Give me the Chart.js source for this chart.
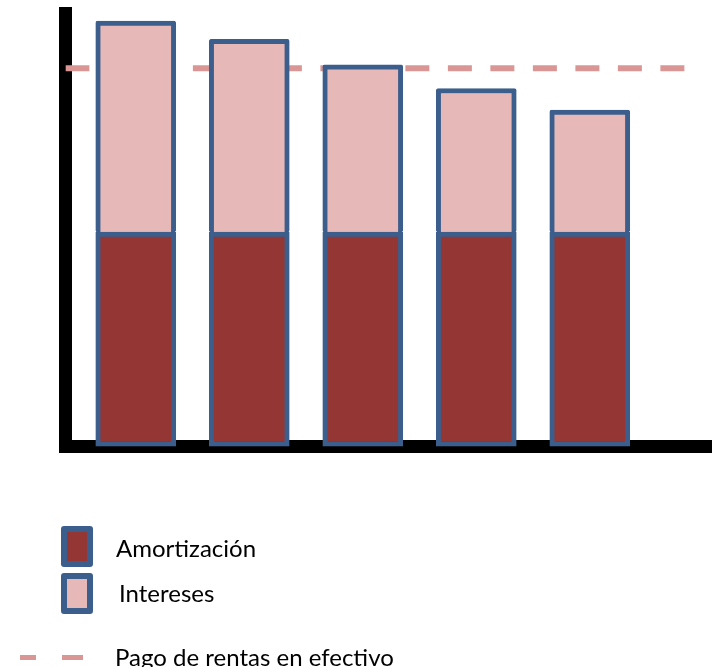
<!DOCTYPE html>
<html>
<head>
<meta charset="utf-8">
<script src="https://cdn.jsdelivr.net/npm/chart.js@4.4.0/dist/chart.umd.min.js"></script>
<style>
  html, body { margin: 0; padding: 0; background: #fff; }
  #wrap { position: relative; width: 715px; height: 667px; overflow: hidden; }
  #chart { position: absolute; left: 0; top: 0; }
  .box { position: absolute; left: 61px; width: 20px; height: 29px; border: 6px solid #3b5e8c; border-radius: 3px; }
  .txt { position: absolute; font-family: Lato, "Open Sans", sans-serif; font-size: 24px; line-height: 30px; color: #000; white-space: nowrap; }
  .dash { position: absolute; height: 5px; background: #d99694; top: 655px; }
</style>
</head>
<body>
<div id="wrap">
  <canvas id="chart" width="715" height="667"></canvas>
  <div class="box" style="top:526px; background:#943634;"></div>
  <div class="txt" style="left:116px; top:533px;">Amortización</div>
  <div class="box" style="top:573px; background:#e6b9b8;"></div>
  <div class="txt" style="left:119px; top:578px;">Intereses</div>
  <div class="dash" style="left:20px; width:16px;"></div>
  <div class="dash" style="left:62px; width:21px;"></div>
  <div class="txt" style="left:115px; top:642px;">Pago de rentas en efectivo</div>
</div>
<script>
// periods (bar positions on the x axis)
const PERIODS = [1, 2, 3, 4, 5];
const AMORTIZACION = [100, 100, 100, 100, 100];
const INTERESES = [98.5, 90, 78, 67, 57];
// constant cash rent, drawn across the whole period range
const RENTA = 176.5;
const RENTA_RANGE = [0.38, 5.85];

const BORDER = '#3b5e8c';

new Chart(document.getElementById('chart'), {
  type: 'bar',
  data: {
    datasets: [
      {
        label: 'Amortización',
        data: PERIODS.map((p, i) => ({ x: p, y: AMORTIZACION[i] })),
        backgroundColor: '#943634',
        borderColor: BORDER, borderWidth: 5, borderSkipped: false,
        borderRadius: 2, barThickness: 80, stack: 's', order: 1
      },
      {
        label: 'Intereses',
        data: PERIODS.map((p, i) => ({ x: p, y: INTERESES[i] })),
        backgroundColor: '#e6b9b8',
        borderColor: BORDER, borderWidth: { top: 5, left: 5, right: 5, bottom: 0 }, borderSkipped: false,
        borderRadius: 2, barThickness: 80, stack: 's', order: 1
      },
      {
        type: 'line',
        label: 'Pago de rentas en efectivo',
        data: RENTA_RANGE.map(x => ({ x: x, y: RENTA })),
        borderColor: '#d99694', borderWidth: 6, borderDash: [24, 18.5],
        pointRadius: 0, fill: false, order: 2
      }
    ]
  },
  options: {
    responsive: false,
    animation: false,
    layout: { padding: { left: 65.5, top: 13.5, right: 4, bottom: 220.5 } },
    plugins: { legend: { display: false }, tooltip: { enabled: false } },
    scales: {
      x: {
        type: 'linear', min: 0.381, max: 6.068, stacked: true, offset: false,
        ticks: { display: false, padding: 0 },
        grid: { display: false, drawTicks: false, tickLength: 0 },
        border: { display: true, color: '#000', width: 13 }
      },
      y: {
        min: 0, max: 202, stacked: true,
        ticks: { display: false, padding: 0 },
        grid: { display: false, drawTicks: false, tickLength: 0 },
        border: { display: true, color: '#000', width: 13 }
      }
    }
  }
});
</script>
</body>
</html>
